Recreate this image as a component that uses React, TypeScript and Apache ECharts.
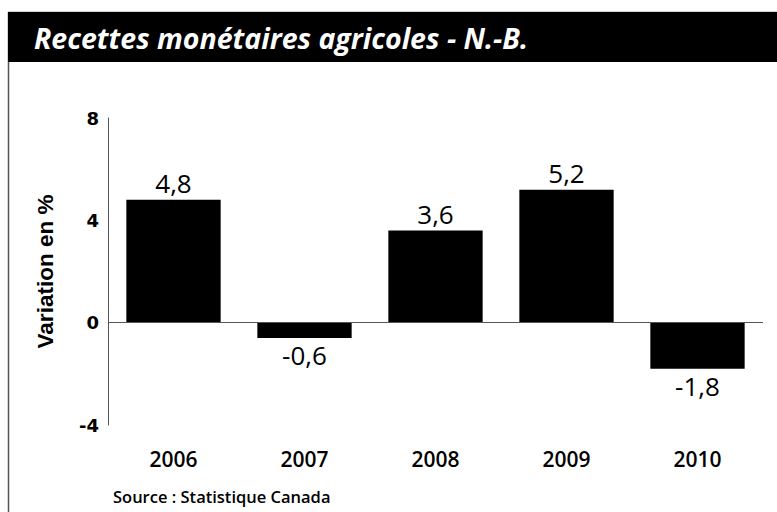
import React, { useEffect, useRef } from "react";
import * as echarts from "echarts";

const categories = ["2006", "2007", "2008", "2009", "2010"];
const values = [4.8, -0.6, 3.6, 5.2, -1.8];
const yTicks = { min: -4, max: 8, interval: 4 };
const titleText = "Recettes monétaires agricoles - N.-B.";
const yName = "Variation en %";
const sourceText = "Source : Statistique Canada";

export default function App() {
  const ref = useRef<HTMLDivElement>(null);
  useEffect(() => {
    const chart = echarts.init(ref.current!, undefined, { renderer: "svg" });
    const font = "'Open Sans', 'Noto Sans', sans-serif";
    chart.setOption({
      animation: false,
      backgroundColor: "#fff",
      graphic: [
        {
          type: "rect",
          shape: { x: 8.5, y: 12.5, width: 790, height: 520 },
          style: { fill: "none", stroke: "#555", lineWidth: 1.5 },
          z: 0,
        },
        {
          type: "rect",
          shape: { x: 8, y: 12, width: 780, height: 50 },
          style: { fill: "#000" },
          z: 1,
        },
        {
          type: "text",
          x: 34,
          y: 38,
          style: {
            text: titleText,
            fill: "#fff",
            font: "italic bold 28.5px " + font,
            textVerticalAlign: "middle",
          },
          z: 2,
        },
        {
          type: "text",
          x: 113,
          y: 496,
          style: {
            text: sourceText,
            fill: "#000",
            font: "600 16.5px " + font,
            textVerticalAlign: "middle",
          },
          z: 2,
        },
      ],
      grid: { left: 108, right: 14, top: 118, bottom: 87, containLabel: false },
      xAxis: {
        type: "category",
        data: categories,
        position: "bottom",
        axisLine: { show: false },
        axisTick: { show: false },
        axisLabel: {
          color: "#000",
          fontFamily: font,
          fontSize: 21,
          fontWeight: 600,
          margin: 23,
        },
      },
      yAxis: {
        type: "value",
        min: yTicks.min,
        max: yTicks.max,
        interval: yTicks.interval,
        name: yName,
        nameLocation: "middle",
        nameGap: 51,
        nameTextStyle: {
          color: "#000",
          fontFamily: "'Liberation Sans', Arial, sans-serif",
          fontSize: 22.5,
          fontWeight: "bold",
        },
        axisLine: { show: true, lineStyle: { color: "#555", width: 1 } },
        axisTick: { show: false },
        splitLine: { show: false },
        axisLabel: {
          color: "#000",
          fontFamily: "'DejaVu Sans', sans-serif",
          fontSize: 18,
          fontWeight: "bold",
          margin: 9,
        },
      },
      series: [
        {
          type: "bar",
          data: values,
          barCategoryGap: "28%",
          itemStyle: { color: "#000" },
          label: {
            show: true,
            position: "outside",
            color: "#000",
            fontFamily: font,
            fontSize: 26,
            distance: 4,
            formatter: (p: any) => String(p.value).replace(".", ","),
          },
          markLine: {
            silent: true,
            symbol: "none",
            label: { show: false },
            lineStyle: { color: "#555", width: 1, type: "solid" },
            data: [{ yAxis: 0 }],
          },
        },
      ],
    });
    return () => chart.dispose();
  }, []);
  return (
    <div
      ref={ref}
      style={{ position: "absolute", left: 0, top: 0, width: 777, height: 512 }}
    />
  );
}
